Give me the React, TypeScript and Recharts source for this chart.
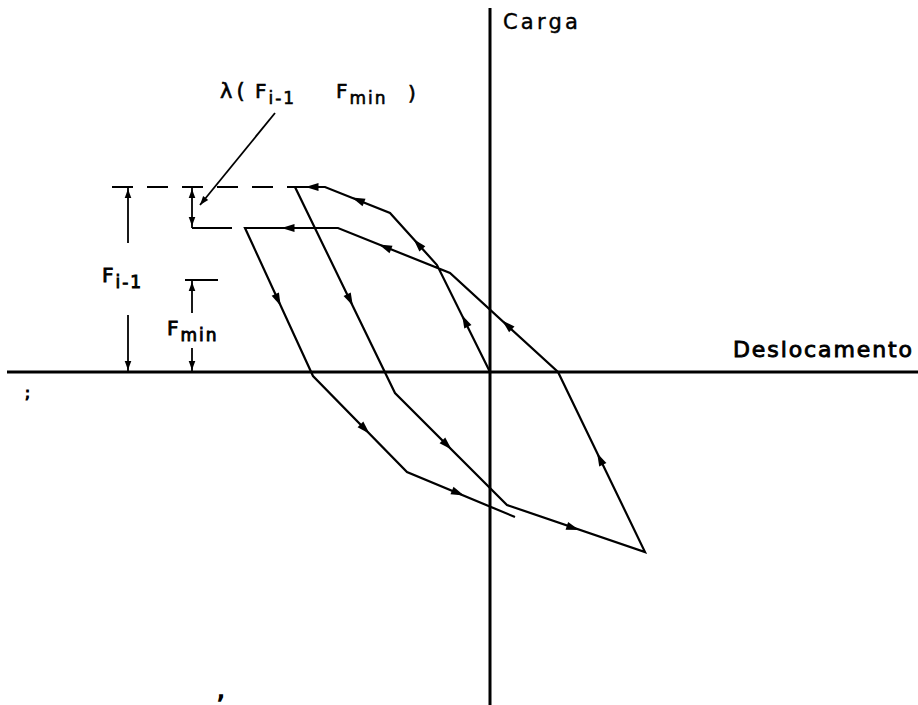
import React from "react";
import { ComposedChart, Line, ReferenceLine, Scatter, XAxis, YAxis } from "recharts";

// hysteresis path (displacement, load); 1 unit = 10 px
const displacement = [0, -5.3, -10.0, -16.5, -19.5, -9.5, 1.7, 15.5, 6.8, -4.0, -15.2, -24.5, -17.7, -8.3, 2.5];
const load = [0, 10.7, 15.9, 18.5, 18.5, -2.1, -13.3, -18.0, 0, 9.9, 14.4, 14.4, -0.4, -10.0, -14.5];

// direction arrows along the path, arrow i sits on segment i
const arrowX = [-2.5, -7.2, -13.2, -17.8, -14.0, -4.3, 8.3, 11.0, 1.7, -10.5, -20.2, -21.2, -12.5, -3.2];
const arrowY = [5.1, 12.8, 17.2, 18.5, 7.2, -7.3, -15.6, -8.7, 4.7, 12.5, 14.4, 7.2, -5.7, -12.1];

// dimension arrow tips and their pointing direction
const dimTipX = [-36.2, -36.2, -29.8, -29.8, -29.8, -29.8, -29.0];
const dimTipY = [18.3, 0.2, 18.3, 14.6, 9.0, 0.2, 16.7];
const dimDirX = [0, 0, 0, 0, 0, 0, -7.5];
const dimDirY = [1, -1, 1, -1, 1, -1, -9.2];

// levels used by the dimensions
const fPrev = 18.5; // F(i-1)
const fLambda = 14.4; // reduced level
const fMin = 9.2;

// text marks: position, main text, subscript
const labels = [
  { x: 1.3, y: 34.3, text: "Carga", sub: "" },
  { x: 24.3, y: 1.5, text: "Deslocamento", sub: "" },
  { x: -27.0, y: 27.4, text: "λ(", sub: "" },
  { x: -23.5, y: 27.4, text: "F", sub: "i-1" },
  { x: -15.4, y: 27.4, text: "F", sub: "min" },
  { x: -8.2, y: 27.2, text: ")", sub: "" },
  { x: -38.8, y: 9.0, text: "F", sub: "i-1" },
  { x: -32.3, y: 3.7, text: "F", sub: "min" },
  { x: -46.5, y: -2.6, text: ";", sub: "" },
  { x: -27.3, y: -32.6, text: ",", sub: "" }
];

// per-label look: size, letter spacing, pen weight
const labelStyle = [
  { size: 21, ls: 3.2, pen: 0.4 },
  { size: 22, ls: 1.9, pen: 0.9 },
  { size: 21, ls: 4, pen: 0.6 },
  { size: 20, ls: 0, pen: 0.6 },
  { size: 20, ls: 0, pen: 0.6 },
  { size: 20, ls: 0, pen: 0.6 },
  { size: 20, ls: 0, pen: 0.9 },
  { size: 20, ls: 0, pen: 0.9 },
  { size: 15, ls: 0, pen: 1.2 },
  { size: 24, ls: 0, pen: 1.5 }
];

const pathData = displacement.map((x, i) => ({ x, y: load[i] }));

const arrowData = arrowX.map((x, i) => ({
  x,
  y: arrowY[i],
  dx: displacement[i + 1] - displacement[i],
  dy: load[i + 1] - load[i],
  tip: false
}));

const dimArrowData = dimTipX.map((x, i) => ({ x, y: dimTipY[i], dx: dimDirX[i], dy: dimDirY[i], tip: true }));

const labelData = labels.map((l, i) => ({ ...l, ...labelStyle[i] }));

const FONT = "'DejaVu Sans', sans-serif";

function ArrowHead(props: any) {
  const { cx, cy, payload } = props;
  if (cx == null || cy == null) return null;
  const ang = (Math.atan2(-payload.dy, payload.dx) * 180) / Math.PI;
  const pts = payload.tip ? "0,0 -9,-3.3 -9,3.3" : "6.5,0 -6.5,-4 -6.5,4";
  return <polygon points={pts} fill="#000" transform={`translate(${cx},${cy}) rotate(${ang})`} />;
}

function TextMark(props: any) {
  const { cx, cy, payload } = props;
  if (cx == null || cy == null) return null;
  return (
    <text
      x={cx}
      y={cy}
      fontFamily={FONT}
      fontSize={payload.size}
      letterSpacing={payload.ls}
      fill="#000"
      stroke="#000"
      strokeWidth={payload.pen}
    >
      {payload.text}
      {payload.sub ? (
        <tspan dx={2} dy={6} fontSize={17} letterSpacing={2}>
          {payload.sub}
        </tspan>
      ) : null}
    </text>
  );
}

const seg = (x1: number, y1: number, x2: number, y2: number) => [
  { x: x1, y: y1 },
  { x: x2, y: y2 }
];

export default function App() {
  const thin = { stroke: "#000", strokeWidth: 1.8, ifOverflow: "visible" as const };
  return (
    <div style={{ position: "absolute", left: 0, top: 0, width: 918, height: 705, background: "#fff" }}>
      <ComposedChart width={918} height={705} margin={{ top: 0, right: 0, bottom: 0, left: 0 }}>
        <XAxis type="number" dataKey="x" domain={[-49, 42.8]} allowDataOverflow hide />
        <YAxis type="number" dataKey="y" domain={[-33.3, 37.2]} allowDataOverflow hide />

        {/* axes */}
        <ReferenceLine segment={seg(-48.3, 0, 42.8, 0)} stroke="#000" strokeWidth={3} ifOverflow="visible" />
        <ReferenceLine segment={seg(0, 36.4, 0, -33.3)} stroke="#000" strokeWidth={3} ifOverflow="visible" />

        {/* projection lines */}
        <ReferenceLine segment={seg(-37.8, fPrev, -19.5, fPrev)} strokeDasharray="21 14" {...thin} />
        <ReferenceLine segment={seg(-29.8, fLambda, -25.8, fLambda)} {...thin} />
        <ReferenceLine segment={seg(-30.5, fMin, -27.2, fMin)} {...thin} />

        {/* dimension lines */}
        <ReferenceLine segment={seg(-36.2, fPrev, -36.2, 12.9)} {...thin} />
        <ReferenceLine segment={seg(-36.2, 5.7, -36.2, 0)} {...thin} />
        <ReferenceLine segment={seg(-29.8, fPrev, -29.8, fLambda)} {...thin} />
        <ReferenceLine segment={seg(-29.8, fMin, -29.8, 5.9)} {...thin} />
        <ReferenceLine segment={seg(-29.8, 2.4, -29.8, 0)} {...thin} />
        <ReferenceLine segment={seg(-21.5, 25.9, -29.0, 16.7)} {...thin} />

        <Line
          data={pathData}
          dataKey="y"
          type="linear"
          stroke="#000"
          strokeWidth={2.2}
          dot={false}
          activeDot={false}
          isAnimationActive={false}
        />
        <Scatter data={arrowData} dataKey="y" shape={ArrowHead} isAnimationActive={false} />
        <Scatter data={dimArrowData} dataKey="y" shape={ArrowHead} isAnimationActive={false} />
        <Scatter data={labelData} dataKey="y" shape={TextMark} isAnimationActive={false} />
      </ComposedChart>
    </div>
  );
}
